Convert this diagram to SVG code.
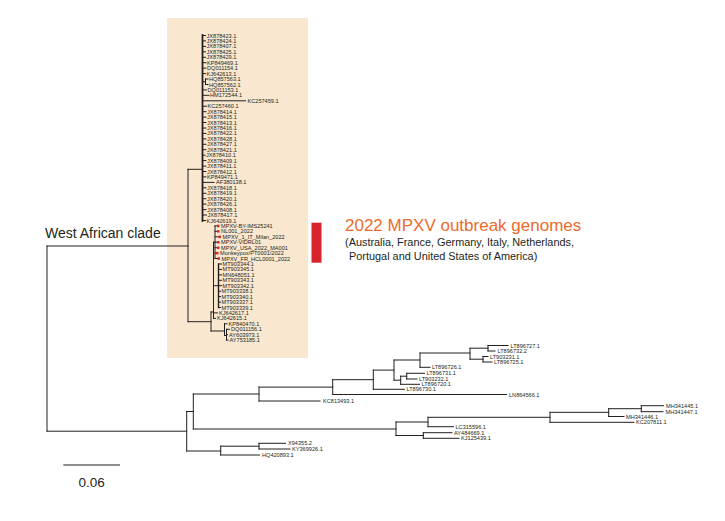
<svg xmlns="http://www.w3.org/2000/svg" width="725" height="521" viewBox="0 0 725 521">
<style>
.t{font-family:"Liberation Sans",Arial,sans-serif;font-size:5.6px;fill:#231f20}
.e{stroke:#231f20;stroke-width:1;fill:none;stroke-linecap:square}
.r{fill:#e0242b}
</style>
<rect id="west-african-box" x="167" y="18" width="141" height="340" fill="#f9e8cf"/>
<g id="connectors">
<path class="e" d="M47 246V431.2M47 246H188M47 431.2H186.7"/>
<path class="e" d="M188 169.3V321.7M188 169.3H202"/>
<path class="e" style="stroke-width:1.8" d="M202.5 35V221"/>
<path class="e" d="M202.5 35.5H205.5M202.5 40.9H205.5M202.5 46.4H205.5M202.5 51.8H205.5M202.5 57.3H205.5M202.5 62.7H206M202.5 68.1H206M202.5 73.6H205.5M202.5 81.7H205.5M205.5 79V84.5M205.5 79H208M205.5 84.5H208M202.5 89.9H206.5M202.5 95.3H209M202.5 100.8H245.5M202.5 106.2H206.5M202.5 111.7H206M202.5 117.1H206M202.5 122.5H206M202.5 128H206M202.5 133.4H206M202.5 138.9H206M202.5 144.3H206M202.5 149.7H206M202.5 155.2H205M202.5 160.6H206M202.5 166.1H206M202.5 171.5H206M202.5 176.9H206M202.5 182.4H214M202.5 187.8H206M202.5 193.3H206M202.5 198.7H206M202.5 204.1H206M202.5 209.6H206M202.5 215H206.5M202.5 220.5H205.5"/>
<path class="e" d="M188 321.7H211M211 312V331M211 331H224.5M224.5 323.8V335.5M224.5 323.8H227M224.5 335.5H226.5M226.5 329.3V340.1M226.5 329.3H229.5M226.5 334.7H227.5M226.5 340.1H228M211 312H213.5M213.5 242.2V318.4M213.5 318.4H215.5M213.5 312.9H217.5M213.5 285.7H218.5"/>
<path class="e" style="stroke-width:1.4" d="M218.5 264V307.5"/>
<path class="e" d="M218.5 264H221.5M218.5 269.4H221.5M218.5 274.9H221.5M218.5 280.3H221.5M218.5 285.7H221.5M218.5 291.2H220.5M218.5 296.6H220.5M218.5 302.1H220.5M218.5 307.5H220.5"/>
<path class="e" d="M213.5 242.2H215M215 225.9V258.5M215 225.9H217M215 231.3H217M215 236.8H218.5M215 242.2H217M215 247.7H217M215 253.1H216M215 258.5H217.5"/>
<path class="e" d="M186.7 411.5V451M186.7 411.5H193.3M193.3 394V429M193.3 394H259M259 387.1V401M259 401H320M259 387.1H332.7M332.7 379.7V394.5M332.7 394.5H506.5M332.7 379.7H373.3M373.3 370.1V389.3M373.3 389.3H404.5M373.3 370.1H394M394 360V380.2M394 380.2H400.7M400.7 376.2V384.3M400.7 384.3H419.5M400.7 376.2H406.7M406.7 373.3V379M406.7 373.3H424.5M406.7 379H417M394 360H420M420 353V367.3M420 367.3H430M420 353H470M470 348.2V359.2M470 348.2H488M488 345.5V351M488 345.5H508M488 351H495M470 359.2H483M483 356.5V362M483 356.5H488M483 362H492"/>
<path class="e" d="M193.3 429H396M396 422V435.5M396 422H428M428 417.3V426.7M428 426.7H453.5M428 417.3H550M550 412.3V422.3M550 422.3H634M550 412.3H608.7M608.7 408.7V416.5M608.7 416.5H624M608.7 408.7H641.3M641.3 405.7V411.7M641.3 405.7H663.5M641.3 411.7H663M396 435.5H423.3M423.3 432.7V438.3M423.3 432.7H452M423.3 438.3H459"/>
<path class="e" d="M186.7 451H220.7M220.7 446.2V455M220.7 446.2H259M259 443.3V449M259 443.3H285.5M259 449H290M220.7 455H259.5"/>
</g>
<g id="leaves-west-africa">
<g id="n1"><text class="t" x="206.5" y="37.5">JX878423.1</text></g>
<g id="n2"><text class="t" x="206.5" y="42.9">JX878424.1</text></g>
<g id="n3"><text class="t" x="206.5" y="48.4">JX878407.1</text></g>
<g id="n4"><text class="t" x="206.5" y="53.8">JX878425.1</text></g>
<g id="n5"><text class="t" x="206.5" y="59.3">JX878429.1</text></g>
<g id="n6"><text class="t" x="207" y="64.7">KP849469.1</text></g>
<g id="n7"><text class="t" x="207" y="70.1">DQ011154.1</text></g>
<g id="n8"><text class="t" x="206.5" y="75.6">KJ642613.1</text></g>
<g id="n9"><text class="t" x="209" y="81">HQ857563.1</text></g>
<g id="n10"><text class="t" x="209" y="86.5">HQ857562.1</text></g>
<g id="n11"><text class="t" x="207.5" y="91.9">DQ011153.1</text></g>
<g id="n12"><text class="t" x="210" y="97.3">HM172544.1</text></g>
<g id="n13"><text class="t" x="247.5" y="102.8">KC257459.1</text></g>
<g id="n14"><text class="t" x="207.5" y="108.2">KC257460.1</text></g>
<g id="n15"><text class="t" x="207" y="113.7">JX878414.1</text></g>
<g id="n16"><text class="t" x="207" y="119.1">JX878415.1</text></g>
<g id="n17"><text class="t" x="207" y="124.5">JX878413.1</text></g>
<g id="n18"><text class="t" x="207" y="130">JX878416.1</text></g>
<g id="n19"><text class="t" x="207" y="135.4">JX878422.1</text></g>
<g id="n20"><text class="t" x="207" y="140.9">JX878428.1</text></g>
<g id="n21"><text class="t" x="207" y="146.3">JX878427.1</text></g>
<g id="n22"><text class="t" x="207" y="151.7">JX878421.1</text></g>
<g id="n23"><text class="t" x="206" y="157.2">JX878410.1</text></g>
<g id="n24"><text class="t" x="207" y="162.6">JX878409.1</text></g>
<g id="n25"><text class="t" x="207" y="168.1">JX878411.1</text></g>
<g id="n26"><text class="t" x="207" y="173.5">JX878412.1</text></g>
<g id="n27"><text class="t" x="207" y="178.9">KP849471.1</text></g>
<g id="n28"><text class="t" x="216" y="184.4">AF380138.1</text></g>
<g id="n29"><text class="t" x="207" y="189.8">JX878418.1</text></g>
<g id="n30"><text class="t" x="207" y="195.3">JX878419.1</text></g>
<g id="n31"><text class="t" x="207" y="200.7">JX878420.1</text></g>
<g id="n32"><text class="t" x="207" y="206.1">JX878426.1</text></g>
<g id="n33"><text class="t" x="207" y="211.6">JX878408.1</text></g>
<g id="n34"><text class="t" x="207.5" y="217">JX878417.1</text></g>
<g id="n35"><text class="t" x="206.5" y="222.5">KJ642619.1</text></g>
<g id="n36"><rect class="r" x="217" y="224.7" width="2.5" height="2.5"/><text class="t" x="221" y="227.9">MPXV-BY-IMS25241</text></g>
<g id="n37"><rect class="r" x="217" y="230.1" width="2.5" height="2.5"/><text class="t" x="221" y="233.3">NL001_2022</text></g>
<g id="n38"><rect class="r" x="218.5" y="235.6" width="2.5" height="2.5"/><text class="t" x="222.5" y="238.8">MPXV_1_IT_Milan_2022</text></g>
<g id="n39"><rect class="r" x="217" y="241" width="2.5" height="2.5"/><text class="t" x="221" y="244.2">MPXV-VIDRL01</text></g>
<g id="n40"><rect class="r" x="217" y="246.5" width="2.5" height="2.5"/><text class="t" x="221" y="249.7">MPXV_USA_2022_MA001</text></g>
<g id="n41"><rect class="r" x="216" y="251.9" width="2.5" height="2.5"/><text class="t" x="220" y="255.1">Monkeypox/PT0001/2022</text></g>
<g id="n42"><rect class="r" x="217.5" y="257.3" width="2.5" height="2.5"/><text class="t" x="221.5" y="260.5">MPXV_FR_HCL0001_2022</text></g>
<g id="n43"><text class="t" x="222.5" y="266">MT903344.1</text></g>
<g id="n44"><text class="t" x="222.5" y="271.4">MT903345.1</text></g>
<g id="n45"><text class="t" x="222.5" y="276.9">MN648051.1</text></g>
<g id="n46"><text class="t" x="222.5" y="282.3">MT903343.1</text></g>
<g id="n47"><text class="t" x="222.5" y="287.7">MT903342.1</text></g>
<g id="n48"><text class="t" x="221.5" y="293.2">MT903338.1</text></g>
<g id="n49"><text class="t" x="221.5" y="298.6">MT903340.1</text></g>
<g id="n50"><text class="t" x="221.5" y="304.1">MT903337.1</text></g>
<g id="n51"><text class="t" x="221.5" y="309.5">MT903339.1</text></g>
<g id="n52"><text class="t" x="219" y="314.9">KJ642617.1</text></g>
<g id="n53"><text class="t" x="217" y="320.4">KJ642615.1</text></g>
<g id="n54"><text class="t" x="228.5" y="325.8">KP840470.1</text></g>
<g id="n55"><text class="t" x="231" y="331.3">DQ011156.1</text></g>
<g id="n56"><text class="t" x="229" y="336.7">AY603973.1</text></g>
<g id="n57"><text class="t" x="229.5" y="342.1">AY753185.1</text></g>
</g>
<g id="leaves-other">
<g id="kc813493"><text class="t" x="323" y="403">KC813493.1</text></g>
<g id="ln864566"><text class="t" x="509" y="396.5">LN864566.1</text></g>
<g id="lt896730"><text class="t" x="406.5" y="391.3">LT896730.1</text></g>
<g id="lt896720"><text class="t" x="421.5" y="386.3">LT896720.1</text></g>
<g id="lt903232"><text class="t" x="419" y="381">LT903232.1</text></g>
<g id="lt896731"><text class="t" x="426.5" y="375.3">LT896731.1</text></g>
<g id="lt896726"><text class="t" x="432" y="369.3">LT896726.1</text></g>
<g id="lt896727"><text class="t" x="510.5" y="347.5">LT896727.1</text></g>
<g id="lt896732"><text class="t" x="497.5" y="353">LT896732.2</text></g>
<g id="lt903231"><text class="t" x="490" y="358.5">LT903231.1</text></g>
<g id="lt896725"><text class="t" x="494" y="364">LT896725.1</text></g>
<g id="lc315596"><text class="t" x="455.5" y="428.7">LC315596.1</text></g>
<g id="ay484669"><text class="t" x="454" y="434.7">AY484669.1</text></g>
<g id="kj125439"><text class="t" x="461" y="440.3">KJ125439.1</text></g>
<g id="mh341445"><text class="t" x="666" y="407.7">MH341445.1</text></g>
<g id="mh341447"><text class="t" x="665.5" y="413.7">MH341447.1</text></g>
<g id="mh341446"><text class="t" x="626" y="418.5">MH341446.1</text></g>
<g id="kc207811"><text class="t" x="636" y="424.3">KC207811.1</text></g>
<g id="x94355"><text class="t" x="288" y="445.3">X94355.2</text></g>
<g id="ky369926"><text class="t" x="292" y="451">KY369926.1</text></g>
<g id="hq420893"><text class="t" x="262" y="457">HQ420893.1</text></g>
</g>
<g id="clade-label"><text x="45" y="238" font-family="Liberation Sans, Arial, sans-serif" font-size="14" fill="#231f20">West African clade</text></g>
<g id="outbreak-legend">
<rect x="311.5" y="222.7" width="10" height="40" fill="#d9232a"/>
<text x="345" y="231" font-family="Liberation Sans, Arial, sans-serif" font-size="17" fill="#ef6a2c">2022 MPXV outbreak genomes</text>
<text x="345" y="245.7" font-family="Liberation Sans, Arial, sans-serif" font-size="10.9" fill="#231f20">(Australia, France, Germany, Italy, Netherlands,</text>
<text x="349" y="260" font-family="Liberation Sans, Arial, sans-serif" font-size="10.9" fill="#231f20">Portugal and United States of America)</text>
</g>
<g id="scale-bar">
<path d="M63.3 465H120" stroke="#231f20" stroke-width="1.2"/>
<text x="91.6" y="487" text-anchor="middle" font-family="Liberation Sans, Arial, sans-serif" font-size="13.5" fill="#231f20">0.06</text>
</g>
</svg>
